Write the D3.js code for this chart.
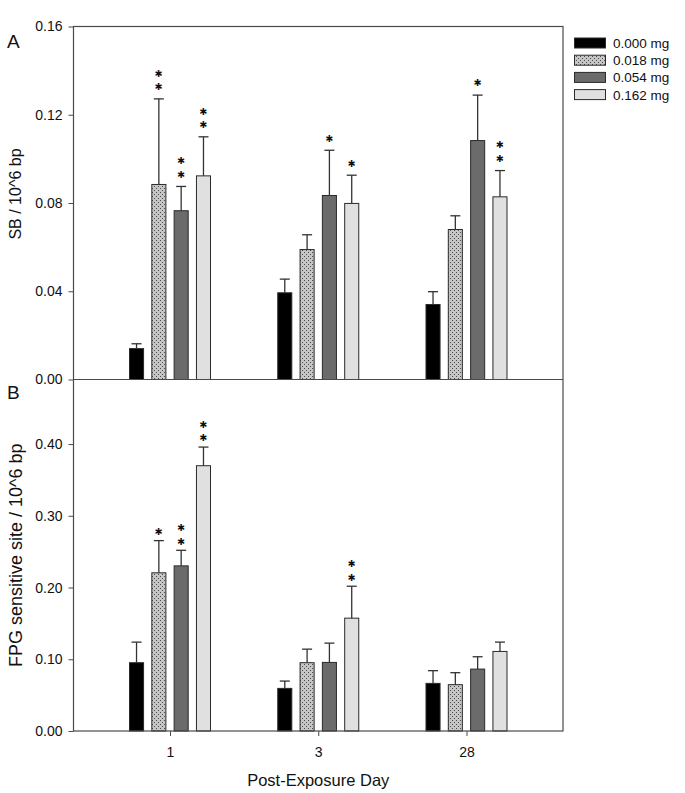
<!DOCTYPE html>
<html>
<head>
<meta charset="utf-8">
<script src="https://cdn.jsdelivr.net/npm/d3@7"></script>
<style>
  html, body { margin: 0; padding: 0; background: #fff; }
  svg { display: block; font-family: "Liberation Sans", Arial, sans-serif; }
</style>
</head>
<body>
<svg id="chart" width="685" height="793"></svg>
<script>
// ---- data ----
const days = ["1", "3", "28"];
const doses = ["0.000 mg", "0.018 mg", "0.054 mg", "0.162 mg"];

// Panel A: SB / 10^6 bp (mean and upper error per day)
const sbMean000 = [0.0140, 0.0393, 0.0340];
const sbMean018 = [0.0884, 0.0589, 0.0680];
const sbMean054 = [0.0765, 0.0834, 0.1083];
const sbMean162 = [0.0923, 0.0798, 0.0828];
const sbErr000 = [0.0022, 0.0062, 0.0058];
const sbErr018 = [0.0388, 0.0067, 0.0062];
const sbErr054 = [0.0110, 0.0205, 0.0206];
const sbErr162 = [0.0177, 0.0128, 0.0119];
const sbStars000 = [0, 0, 0];
const sbStars018 = [2, 0, 0];
const sbStars054 = [2, 1, 1];
const sbStars162 = [2, 1, 2];

// Panel B: FPG sensitive site / 10^6 bp
const fpgMean000 = [0.0952, 0.0594, 0.0664];
const fpgMean018 = [0.2205, 0.0952, 0.0646];
const fpgMean054 = [0.2302, 0.0956, 0.0863];
const fpgMean162 = [0.3698, 0.1573, 0.1109];
const fpgErr000 = [0.0287, 0.0102, 0.0177];
const fpgErr018 = [0.0449, 0.0189, 0.0167];
const fpgErr054 = [0.0217, 0.0269, 0.0172];
const fpgErr162 = [0.0260, 0.0445, 0.0130];
const fpgStars000 = [0, 0, 0];
const fpgStars018 = [1, 0, 0];
const fpgStars054 = [2, 0, 0];
const fpgStars162 = [2, 2, 0];

const sbTicks = [0.00, 0.04, 0.08, 0.12, 0.16];
const fpgTicks = [0.00, 0.10, 0.20, 0.30, 0.40];

// ---- build tables ----
function build(means, errs, stars) {
  const out = [];
  days.forEach((d, i) => {
    doses.forEach((s, j) => {
      out.push({ day: d, dose: s, mean: means[j][i], err: errs[j][i], stars: stars[j][i] });
    });
  });
  return out;
}
const sbData = build([sbMean000, sbMean018, sbMean054, sbMean162],
                     [sbErr000, sbErr018, sbErr054, sbErr162],
                     [sbStars000, sbStars018, sbStars054, sbStars162]);
const fpgData = build([fpgMean000, fpgMean018, fpgMean054, fpgMean162],
                      [fpgErr000, fpgErr018, fpgErr054, fpgErr162],
                      [fpgStars000, fpgStars018, fpgStars054, fpgStars162]);

// ---- layout ----
const svg = d3.select("#chart");
const left = 73.5, right = 563;
const aTop = 26.5, aBot = 379.5, bBot = 731;
const axisColor = "#4a4a4a";
const font = "Liberation Sans, Arial, sans-serif";

// pattern for 0.018 mg
const defs = svg.append("defs");
const pat = defs.append("pattern").attr("id", "dots")
  .attr("width", 4).attr("height", 4).attr("patternUnits", "userSpaceOnUse");
pat.append("rect").attr("width", 4).attr("height", 4).attr("fill", "#c6c6c6");
pat.append("rect").attr("x", 0).attr("y", 0).attr("width", 1).attr("height", 1).attr("fill", "#4a4a4a");
pat.append("rect").attr("x", 2).attr("y", 2).attr("width", 1).attr("height", 1).attr("fill", "#4a4a4a");

const fills = d3.scaleOrdinal().domain(doses).range(["#000000", "url(#dots)", "#6b6b6b", "#e0e0e0"]);

const x = d3.scalePoint().domain(days).range([left, right]).padding(0.651);
const xi = d3.scaleBand().domain(doses).range([-40.5, 40.5]).paddingInner(0.37);

const yA = d3.scaleLinear().domain([0, 0.16]).range([aBot, aTop]);
const yB = d3.scaleLinear().domain([0, 0.49]).range([bBot, aBot]);

function drawPanel(data, y, ticks, starOffset) {
  const g = svg.append("g");
  const cx = d => x(d.day) + xi(d.dose) + xi.bandwidth() / 2;
  // bars
  g.selectAll("rect.bar").data(data).enter().append("rect")
    .attr("class", "bar")
    .attr("x", d => x(d.day) + xi(d.dose))
    .attr("y", d => y(d.mean))
    .attr("width", xi.bandwidth())
    .attr("height", d => y(0) - y(d.mean))
    .attr("fill", d => fills(d.dose))
    .attr("stroke", "#2a2a2a").attr("stroke-width", 1);
  // error bars (upper only)
  const eb = g.selectAll("g.err").data(data).enter().append("g").attr("class", "err");
  eb.append("line")
    .attr("x1", cx).attr("x2", cx)
    .attr("y1", d => y(d.mean))
    .attr("y2", d => y(d.mean + d.err))
    .attr("stroke", "#333").attr("stroke-width", 1.3);
  eb.append("line")
    .attr("x1", d => cx(d) - 5)
    .attr("x2", d => cx(d) + 5)
    .attr("y1", d => y(d.mean + d.err))
    .attr("y2", d => y(d.mean + d.err))
    .attr("stroke", "#333").attr("stroke-width", 1.3);
  // stars: one text element per star, heavy asterisk glyph
  data.filter(d => d.stars > 0).forEach(d => {
    for (let k = 0; k < d.stars; k++) {
      const c = y(d.mean + d.err) - starOffset - 13.5 * k;
      g.append("text")
        .attr("x", cx(d))
        .attr("y", c)
        .attr("dy", "0.35em")
        .attr("text-anchor", "middle")
        .attr("font-family", "DejaVu Sans, sans-serif")
        .attr("font-size", 9.5)
        .attr("fill", "#111")
        .text("\u2731");
    }
  });
  // y axis
  const ax = g.append("g").attr("transform", `translate(${left},0)`)
    .call(d3.axisLeft(y).tickValues(ticks).tickFormat(d3.format(".2f")).tickSize(5).tickPadding(6));
  ax.select(".domain").remove();
  ax.selectAll(".tick line").attr("stroke", axisColor);
  ax.selectAll(".tick text").attr("font-size", 14).attr("font-family", font).attr("fill", "#111");
  return g;
}

drawPanel(sbData, yA, sbTicks, 12);
drawPanel(fpgData, yB, fpgTicks, 9);

// frame
svg.append("rect").attr("x", left).attr("y", aTop).attr("width", right - left).attr("height", bBot - aTop)
  .attr("fill", "none").attr("stroke", axisColor).attr("stroke-width", 1.2);
svg.append("line").attr("x1", left).attr("x2", right).attr("y1", aBot).attr("y2", aBot)
  .attr("stroke", axisColor).attr("stroke-width", 1.2);

// x axis
const xa = svg.append("g").attr("transform", `translate(0,${bBot})`)
  .call(d3.axisBottom(x).tickSize(5).tickPadding(11));
xa.select(".domain").remove();
xa.selectAll(".tick line").attr("stroke", axisColor);
xa.selectAll(".tick text").attr("font-size", 14).attr("font-family", font).attr("fill", "#111");

// axis titles
svg.append("text").attr("x", (left + right) / 2).attr("y", 786)
  .attr("text-anchor", "middle").attr("font-size", 16.5).attr("fill", "#111")
  .text("Post-Exposure Day");
svg.append("text").attr("transform", `translate(21,${(aTop + aBot) / 2 - 9}) rotate(-90)`)
  .attr("text-anchor", "middle").attr("font-size", 16).attr("fill", "#111")
  .text("SB / 10^6 bp");
svg.append("text").attr("transform", `translate(22,${(aBot + bBot) / 2}) rotate(-90)`)
  .attr("text-anchor", "middle").attr("font-size", 18).attr("fill", "#111")
  .text("FPG sensitive site / 10^6 bp");

// panel letters
svg.append("text").attr("x", 7).attr("y", 47.5).attr("font-size", 19).attr("fill", "#111").text("A");
svg.append("text").attr("x", 7).attr("y", 398.5).attr("font-size", 19).attr("fill", "#111").text("B");

// legend
const lg = svg.append("g");
const legY0 = 38;
doses.forEach((s, i) => {
  const yy = legY0 + i * 17.2;
  lg.append("rect").attr("x", 574.5).attr("y", yy).attr("width", 31).attr("height", 10)
    .attr("fill", fills(s)).attr("stroke", "#2a2a2a").attr("stroke-width", 1);
  lg.append("text").attr("x", 613).attr("y", yy + 10).attr("font-size", 13.5).attr("fill", "#111").text(s);
});
</script>
</body>
</html>
